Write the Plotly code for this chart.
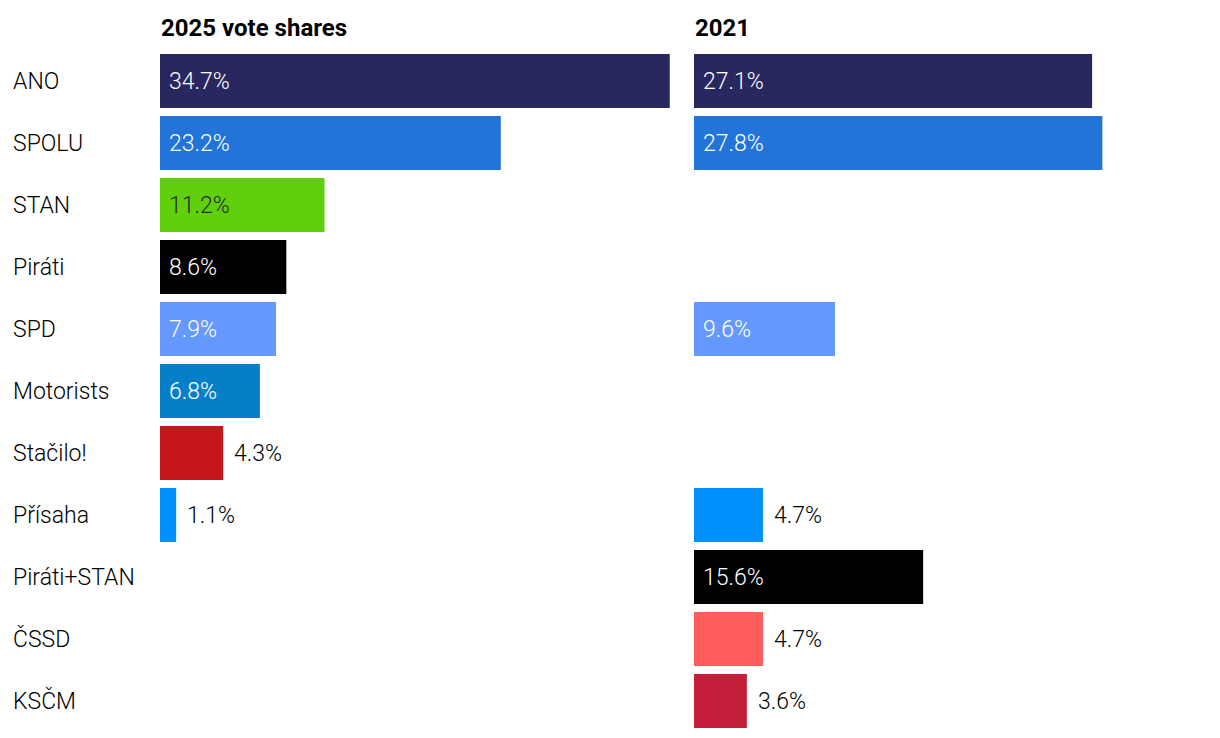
import plotly.graph_objects as go

parties = ["ANO", "SPOLU", "STAN", "Piráti", "SPD", "Motorists", "Stačilo!",
           "Přísaha", "Piráti+STAN", "ČSSD", "KSČM"]
share_2025 = [34.7, 23.2, 11.2, 8.6, 7.9, 6.8, 4.3, 1.1, None, None, None]
share_2021 = [27.1, 27.8, None, None, 9.6, None, None, 4.7, 15.6, 4.7, 3.6]
colors = ["#29275F", "#2274D8", "#5FD00B", "#000000", "#6699FF", "#0580C8",
          "#C4161C", "#0091FF", "#000000", "#FF5D5D", "#C41E3A"]
inside_text_colors = ["#FFFFFF", "#FFFFFF", "#2A2A2A", "#FFFFFF", "#FFFFFF", "#FFFFFF",
                      "#FFFFFF", "#FFFFFF", "#FFFFFF", "#FFFFFF", "#FFFFFF"]
panel_titles = ["2025 vote shares", "2021"]

FONT = "Roboto"
FS = 23
OFF = 8  # page offset of the figure inside the browser window
W, H = 1220 - OFF, 738 - OFF
MT, MB = 50 - OFF, 6
PXPER = 14.69
XMAX = 35
left0 = 160 - OFF
right0 = 694 - OFF
dom1 = [left0 / W, (left0 + XMAX * PXPER) / W]
dom2 = [right0 / W, (right0 + XMAX * PXPER) / W]

fig = go.Figure()
annotations = []

for vals, xa, ya in [(share_2025, "x", "y"), (share_2021, "x2", "y2")]:
    xs, ys, cs = [], [], []
    for p, v, c, tc in zip(parties, vals, colors, inside_text_colors):
        if v is None:
            continue
        xs.append(v); ys.append(p); cs.append(c)
        inside = v > 5
        annotations.append(dict(
            x=0 if inside else v, y=p, xref=xa, yref=ya,
            text=f"{v:.1f}%", showarrow=False, xanchor="left", yanchor="middle",
            xshift=7 if inside else 9,
            font=dict(family=FONT, size=FS, weight=300, color=tc if inside else "#000000"),
        ))
    fig.add_trace(go.Bar(x=xs, y=ys, orientation="h", marker=dict(color=cs, line=dict(width=0)),
                         xaxis=xa, yaxis=ya, hoverinfo="skip", showlegend=False))

for p in parties:
    annotations.append(dict(
        x=(12 - OFF) / W, y=p, xref="paper", yref="y", text=p, showarrow=False,
        xanchor="left", yanchor="middle", xshift=-1,
        font=dict(family=FONT, size=FS, weight=300, color="#000000"),
    ))

plot_h = H - MT - MB
for title, dom in zip(panel_titles, [dom1, dom2]):
    annotations.append(dict(
        x=dom[0], y=1 + (50 - 28) / plot_h, xref="paper", yref="paper",
        text=f"<b>{title}</b>", showarrow=False, xanchor="left", yanchor="middle",
        xshift=-1, font=dict(family=FONT, size=24, color="#000000"),
    ))

axis_common = dict(range=[0, XMAX], showgrid=False, zeroline=False, showticklabels=False,
                   showline=False, ticks="", fixedrange=True)
fig.update_layout(
    width=W, height=H,
    margin=dict(l=0, r=0, t=MT, b=MB),
    paper_bgcolor="white", plot_bgcolor="white",
    bargap=0.13,
    xaxis=dict(domain=dom1, **axis_common),
    xaxis2=dict(domain=dom2, anchor="y2", **axis_common),
    yaxis=dict(categoryorder="array", categoryarray=parties, autorange="reversed",
               showticklabels=False, showgrid=False, zeroline=False, ticks=""),
    yaxis2=dict(matches="y", anchor="x2", categoryorder="array", categoryarray=parties,
                showticklabels=False, showgrid=False, zeroline=False, ticks=""),
    annotations=annotations,
    font=dict(family=FONT, size=FS),
)

fig.write_html("out.html")
